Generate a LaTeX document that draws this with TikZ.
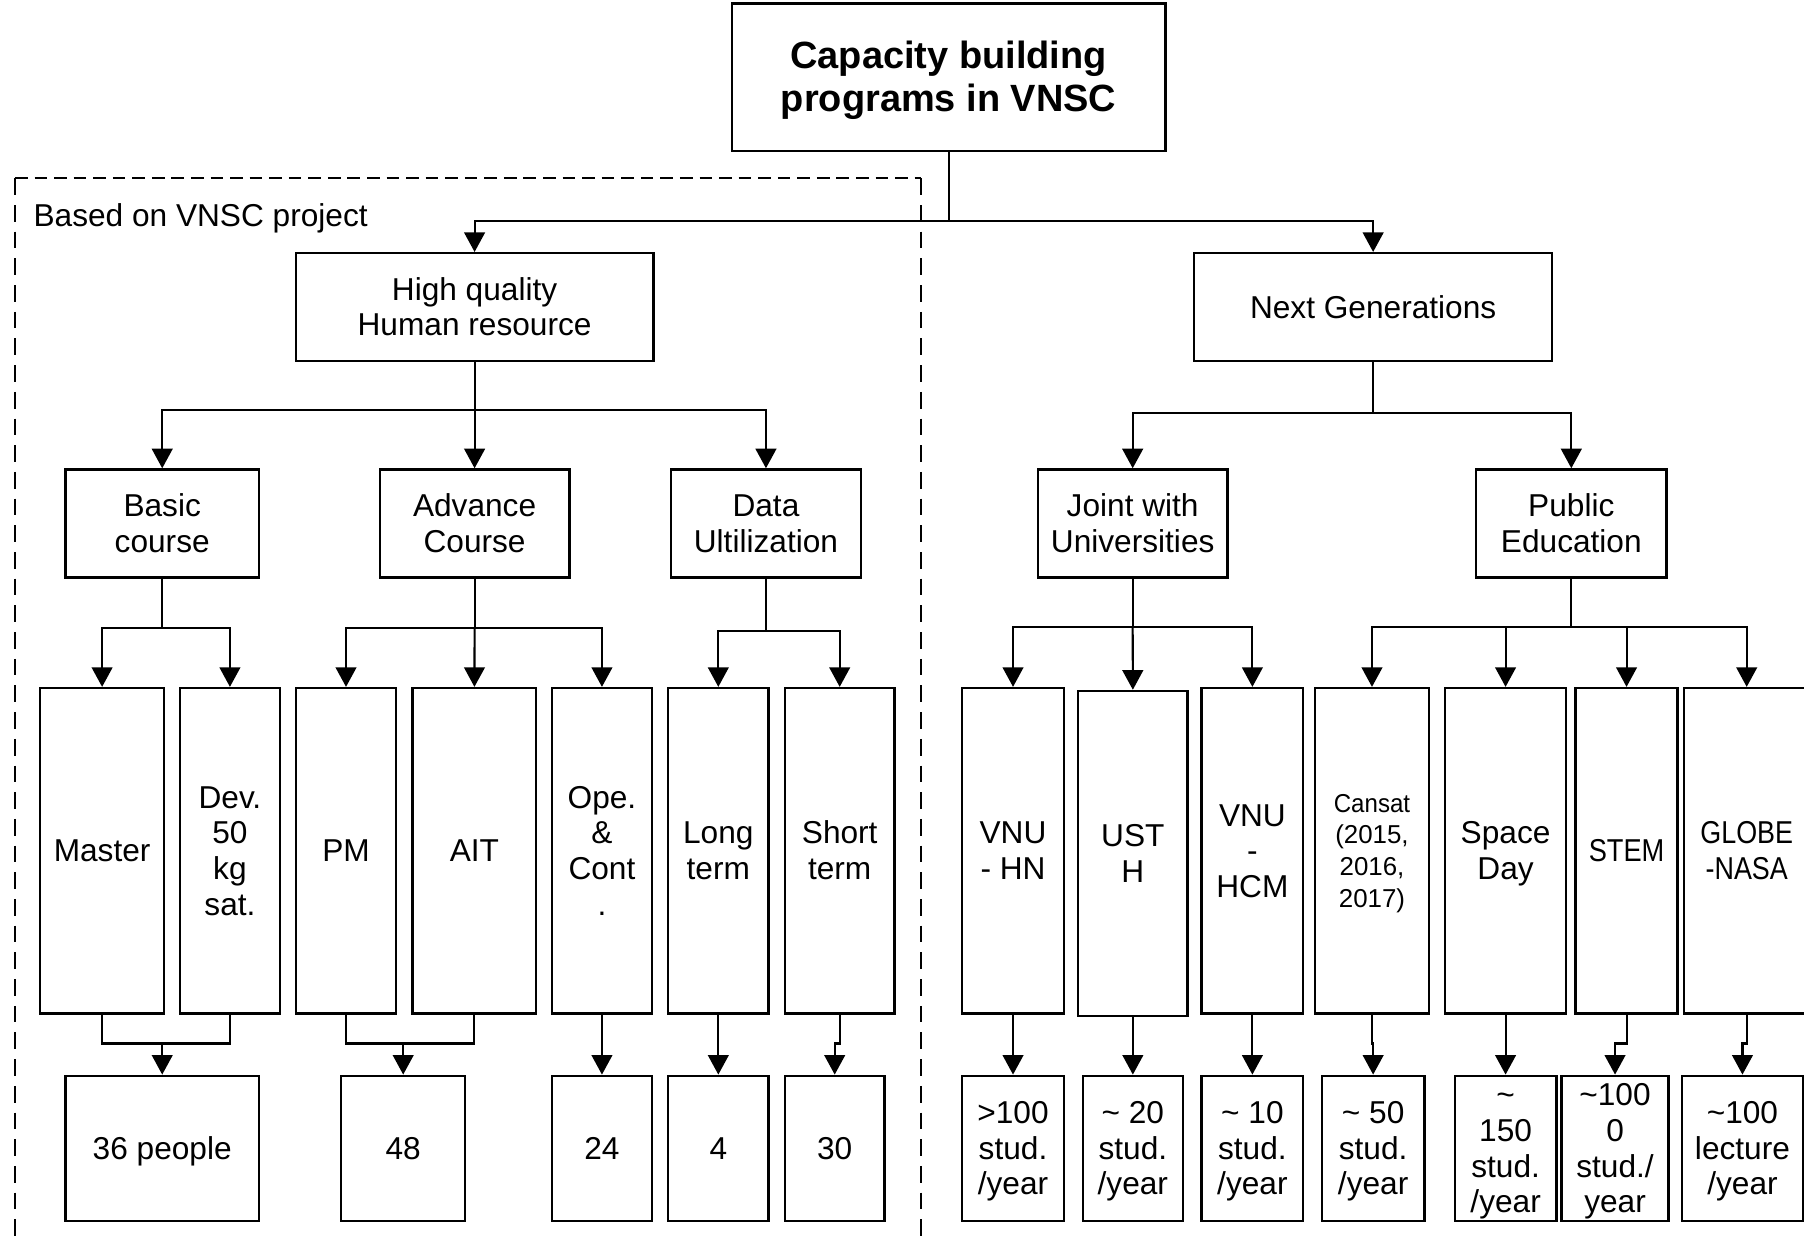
\documentclass[tikz,border=0pt]{standalone}
\usepackage{fontspec}
\setmainfont{Liberation Sans}
\usepackage{graphicx}
\usetikzlibrary{arrows.meta}
\newcommand\sA{\rule[-5.83pt]{0pt}{30.72pt}}
\newcommand\sB{\rule[-4.77pt]{0pt}{25.13pt}}
\newcommand\sC{\rule[-7.0pt]{0pt}{36.86pt}}
\begin{document}
\begin{tikzpicture}[x=1pt,y=-1pt,
  bx/.style={draw, line width=2pt, inner sep=0pt, align=center, font=\fontsize{27.5}{31}\selectfont},
  tall/.style={bx, minimum height=283pt},
  low/.style={bx, minimum height=126pt},
  mid/.style={bx, minimum height=94pt},
  ln/.style={line width=1.8pt},
  arr/.style={ln, -{Triangle[width=18pt,length=17pt]}},
  hframe/.style={line width=1.7pt, dash pattern=on 11pt off 6pt},
  vframe/.style={line width=1.7pt, dash pattern=on 14.5pt off 8.7pt}]
\useasboundingbox (0,0) rectangle (1568,1080);
\clip (0,0) rectangle (1568,1080);

% dashed frame
\draw[hframe] (13,155) -- (800.5,155);
\draw[vframe] (13,155) -- (13,1095);
\draw[vframe] (800.5,155) -- (800.5,1095);
\node[anchor=west, inner sep=0pt, font=\fontsize{27.5}{31}\selectfont] (lbl) at (29,187.5) {\sA Based on VNSC project};

% level 0
\node[bx, minimum width=377pt, minimum height=128pt, font=\bfseries\fontsize{33}{37}\selectfont] (top) at (824.5,67) {\sC Capacity building\\programs in VNSC\sC};

% level 1
\node[mid, minimum width=311pt] (hq) at (412.5,267) {\sA High quality\\Human resource\sA};
\node[mid, minimum width=311pt] (ng) at (1193.5,267) {\sA Next Generations\sA};

% level 2
\node[mid, minimum width=168pt] (basic) at (141,455) {\sA Basic\\course\sA};
\node[mid, minimum width=165pt] (adv) at (412.5,455) {\sA Advance\\Course\sA};
\node[mid, minimum width=165.5pt] (data) at (665.75,455) {\sA Data\\Ultilization\sA};
\node[mid, minimum width=165pt] (joint) at (984.5,455) {\sA Joint with\\Universities\sA};
\node[mid, minimum width=165.5pt] (public) at (1365.75,455) {\sA Public\\Education\sA};

% level 3
\node[tall, minimum width=107.5pt] (master) at (88.75,739.5) {\sA Master};
\node[tall, minimum width=87.1pt] (dev) at (199.85,739.5) {\sA Dev.\\50\\kg\\sat.\sA};
\node[tall, minimum width=87.1pt] (pm) at (300.75,739.5) {\sA PM};
\node[tall, minimum width=107.5pt] (ait) at (412.35,739.5) {\sA AIT};
\node[tall, minimum width=86.6pt] (ope) at (523.2,739.5) {\sA Ope.\\\&\\Cont\\.\sA};
\node[tall, minimum width=87.1pt] (long) at (624.35,739.5) {\sA Long\\term\sA};
\node[tall, minimum width=95.3pt] (short) at (729.85,739.5) {\sA Short\\term\sA};
\node[tall, minimum width=89pt] (vnuhn) at (880.5,739.5) {\sA VNU\\- HN\sA};
\node[tall, minimum width=94.9pt, minimum height=282.8pt] (usth) at (984.65,741.9) {\sA UST\\H\sA};
\node[tall, minimum width=88.5pt] (vnuhcm) at (1088.55,739.5) {\sA VNU\\-\\HCM\sA};
\node[tall, minimum width=98.8pt, font=\fontsize{22.5}{27.5}\selectfont] (cansat) at (1192.5,739.5) {\sB\scalebox{0.93}[1]{Cansat}\\(2015,\\2016,\\2017)\sB};
\node[tall, minimum width=105.2pt] (space) at (1308.6,739.5) {\sA Space\\Day\sA};
\node[tall, minimum width=88.5pt] (stem) at (1413.75,739.5) {\sA\scalebox{0.86}[1]{STEM}};
\node[tall, minimum width=108.6pt] (globe) at (1518.2,739.5) {\sA\scalebox{0.85}[1]{GLOBE}\\\scalebox{0.85}[1]{-NASA}\sA};

% level 4
\node[low, minimum width=168pt] (people) at (141,998) {\sA 36 people};
\node[low, minimum width=108pt] (n48) at (350.45,998) {\sA 48};
\node[low, minimum width=86.6pt] (n24) at (523.2,998) {\sA 24};
\node[low, minimum width=87.1pt] (n4) at (624.35,998) {\sA 4};
\node[low, minimum width=86.6pt] (n30) at (725.5,998) {\sA 30};
\node[low, minimum width=89pt] (s100) at (880.5,998) {\sA>100\\stud.\\/year\sA};
\node[low, minimum width=87.1pt] (s20) at (984.65,998) {\sA\textasciitilde{} 20\\stud.\\/year\sA};
\node[low, minimum width=88.5pt] (s10) at (1088.55,998) {\sA\textasciitilde{} 10\\stud.\\/year\sA};
\node[low, minimum width=89pt] (s50) at (1193.5,998) {\sA\textasciitilde{} 50\\stud.\\/year\sA};
\node[low, minimum width=88.5pt] (s150) at (1308.65,998) {\sA\textasciitilde\\150\\stud.\\/year\sA};
\node[low, minimum width=92.9pt] (s1000) at (1403.75,998) {\sA\textasciitilde100\\0\\stud./\\year\sA};
\node[low, minimum width=105pt] (lect) at (1514.5,998) {\sA\textasciitilde100\\lecture\\/year\sA};

% connectors: top
\coordinate (j0) at (824.5,192);
\draw[ln] (top.south) -- (j0);
\draw[arr] (j0) -| (hq.north);
\draw[arr] (j0) -| (ng.north);

\coordinate (j1) at (412.5,356);
\draw[ln] (hq.south) -- (j1);
\draw[arr] (j1) -| (basic.north);
\draw[arr] (j1) -- (adv.north);
\draw[arr] (j1) -| (data.north);

\coordinate (j2) at (1193.5,359);
\draw[ln] (ng.south) -- (j2);
\draw[arr] (j2) -| (joint.north);
\draw[arr] (j2) -| (public.north);

% level 2 -> 3
\coordinate (jb) at (141,546);
\draw[ln] (basic.south) -- (jb);
\draw[arr] (jb) -| (master.north);
\draw[arr] (jb) -| (dev.north);

\coordinate (ja) at (412.5,546);
\draw[ln] (adv.south) -- (ja);
\draw[arr] (ja) -| (pm.north);
\draw[arr] (ja) -- (ait.north);
\draw[arr] (ja) -| (ope.north);

\coordinate (jd) at (665.75,548.5);
\draw[ln] (data.south) -- (jd);
\draw[arr] (jd) -| (long.north);
\draw[arr] (jd) -| (short.north);

\coordinate (jj) at (984.5,545);
\draw[ln] (joint.south) -- (jj);
\draw[arr] (jj) -| (vnuhn.north);
\draw[arr] (jj) -- (usth.north);
\draw[arr] (jj) -| (vnuhcm.north);

\coordinate (jp) at (1365.75,545);
\draw[ln] (public.south) -- (jp);
\draw[arr] (jp) -| (cansat.north);
\draw[arr] (jp) -| (space.north);
\draw[arr] (jp) -| (stem.north);
\draw[arr] (jp) -| (globe.north);

% level 3 -> 4
\coordinate (k1) at (141,907);
\draw[ln] (master.south) |- (k1) -| (dev.south);
\draw[arr] (k1) -- (people.north);

\coordinate (k2) at (350.45,907);
\draw[ln] (pm.south) |- (k2) -| (ait.south);
\draw[arr] (k2) -- (n48.north);

\draw[arr] (ope.south) -- (ope.south |- n24.north);
\draw[arr] (long.south) -- (long.south |- n4.north);
\draw[arr] (short.south) -- (short.south |- k1) -| (n30.north);
\draw[arr] (vnuhn.south) -- (vnuhn.south |- s100.north);
\draw[arr] (usth.south) -- (usth.south |- s20.north);
\draw[arr] (vnuhcm.south) -- (vnuhcm.south |- s10.north);
\draw[arr] (cansat.south) -- (cansat.south |- k1) -| (s50.north);
\draw[arr] (space.south) -- (space.south |- s150.north);
\draw[arr] (stem.south) -- (stem.south |- k1) -| (s1000.north);
\draw[arr] (globe.south) -- (globe.south |- k1) -| (lect.north);
\end{tikzpicture}
\end{document}
